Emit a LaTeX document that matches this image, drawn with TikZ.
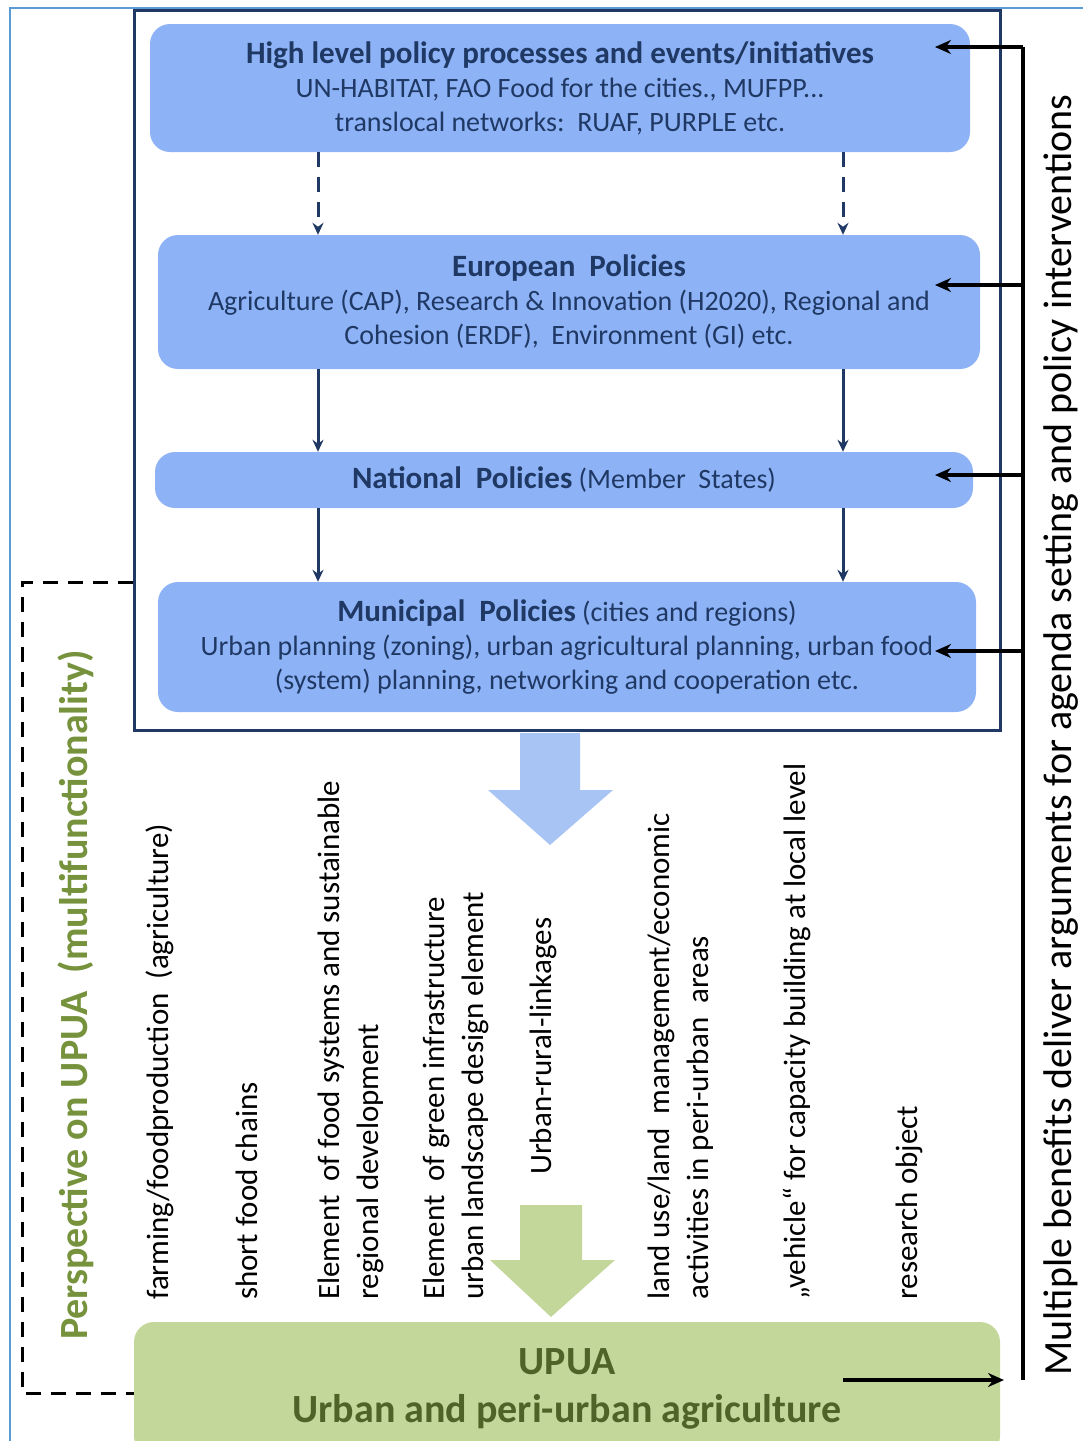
\documentclass[tikz,border=0pt]{standalone}
\usepackage{fontspec}
\setmainfont{Carlito}
\usetikzlibrary{arrows.meta}
\definecolor{navy}{HTML}{1F3864}
\definecolor{boxblue}{RGB}{141,179,246}
\definecolor{arrowblue}{RGB}{168,196,245}
\definecolor{upuagreen}{RGB}{196,215,155}
\definecolor{darkolive}{HTML}{4F6228}
\definecolor{persgreen}{HTML}{76923C}
\definecolor{pageframe}{HTML}{5B9BD5}
\newcommand{\boxhead}[1]{{\fontsize{31}{33}\selectfont\bfseries #1}}
\begin{document}
\begin{tikzpicture}[x=1pt,y=-1pt,
  policy/.style={fill=boxblue, rounded corners=20pt, align=center, text=navy, inner sep=0pt, font=\fontsize{28}{34}\selectfont},
  flow/.style={navy, line width=3pt, -{Stealth[length=12pt,width=11pt]}},
  feedback/.style={line width=3.5pt, -{Stealth[length=16pt,width=14pt]}},
  benefit/.style={rotate=90, anchor=north west, align=left, inner sep=0pt, font=\fontsize{31}{39}\selectfont}]
\useasboundingbox (0,0) rectangle (1083,1441);
\draw[pageframe, line width=1.2pt] (10,1441) -- (10,8) -- (1083,8);
\node[draw=navy, line width=3pt, minimum width=866pt, minimum height=720pt] (frame) at (567,370) {};

\node[policy, minimum width=820pt, minimum height=128pt] (high) at (560,88) {\boxhead{High level policy processes and events/initiatives}\\UN-HABITAT, FAO Food for the cities., MUFPP...\\translocal networks:\ \ RUAF, PURPLE etc.};
\node[policy, minimum width=822pt, minimum height=134pt] (euro) at (569,302) {\boxhead{European\ \ Policies}\\Agriculture (CAP), Research \& Innovation (H2020), Regional and\\Cohesion (ERDF),\ \ Environment (GI) etc.};
\node[policy, minimum width=818pt, minimum height=56pt] (nat) at (564,480) {\boxhead{National\ \ Policies} (Member\ \ States)};
\node[policy, minimum width=818pt, minimum height=130pt] (muni) at (567,647) {\boxhead{Municipal\ \ Policies} (cities and regions)\\Urban planning (zoning), urban agricultural planning, urban food\\(system) planning, networking and cooperation etc.};

\coordinate (lx) at (318,0);
\coordinate (rx) at (843,0);
\draw[flow, dash pattern=on 15pt off 10pt] (high.south -| lx) -- (euro.north -| lx);
\draw[flow, dash pattern=on 15pt off 10pt] (high.south -| rx) -- (euro.north -| rx);
\draw[flow] (euro.south -| lx) -- (nat.north -| lx);
\draw[flow] (euro.south -| rx) -- (nat.north -| rx);
\draw[flow] (nat.south -| lx) -- (muni.north -| lx);
\draw[flow] (nat.south -| rx) -- (muni.north -| rx);

\fill[arrowblue] (520,733) -- (580,733) -- (580,790) -- (613,790) -- (550,845) -- (488,790) -- (520,790) -- cycle;
\fill[upuagreen] (520,1205) -- (582,1205) -- (582,1260) -- (615,1260) -- (551,1317) -- (490,1260) -- (520,1260) -- cycle;

\node[fill=upuagreen, rounded corners=20pt, minimum width=866pt, minimum height=134pt, align=center, text=darkolive, inner sep=0pt, font=\bfseries\fontsize{40}{48}\selectfont] (upua) at (567,1389) {UPUA\\Urban and peri-urban agriculture};

\node[benefit] (ben1) at (146,1300) {farming/foodproduction\ \ (agriculture)};
\node[benefit] (ben2) at (236,1300) {short food chains};
\node[benefit] (ben3) at (318,1300) {Element\ \ of food systems and sustainable\\regional development};
\node[benefit] (ben4) at (423,1300) {Element\ \ of green infrastructure\\urban landscape design element};
\node[benefit] (ben5) at (530,1175) {Urban-rural-linkages};
\node[benefit] (ben6) at (648,1300) {land use/land\ \ management/economic\\activities in peri-urban\ \ areas};
\node[benefit] (ben7) at (783,1300) {„vehicle“ for capacity building at local level};
\node[benefit] (ben8) at (896,1300) {research object};

\node[rotate=90, text=persgreen, font=\bfseries\fontsize{40}{44}\selectfont] (persp) at (76,995) {Perspective on UPUA\ \ (multifunctionality)};
\coordinate (bendtop) at (22,582);
\coordinate (bendbot) at (22,1393);
\draw[line width=3pt, dash pattern=on 15pt off 10pt] (bendtop -| frame.west) -- (bendtop) -- (bendbot) -- (bendbot -| upua.west);

\node[rotate=90, font=\fontsize{40}{44}\selectfont] (benefits) at (1061,735) {Multiple benefits deliver arguments for agenda setting and policy interventions};
\coordinate (bustop) at (1023,47);
\coordinate (busbot) at (1023,1380);
\coordinate (tipx) at (935,0);
\draw[line width=3.5pt] (bustop) -- (busbot);
\draw[feedback] (bustop) -- (tipx |- bustop);
\draw[feedback] ([yshift=17pt]euro.east -| bustop) -- ([yshift=17pt]euro.east -| tipx);
\draw[feedback] ([yshift=5pt]nat.east -| bustop) -- ([yshift=5pt]nat.east -| tipx);
\draw[feedback] ([yshift=-4pt]muni.east -| bustop) -- ([yshift=-4pt]muni.east -| tipx);
\draw[feedback] (rx |- busbot) -- ([xshift=-19pt]busbot);
\end{tikzpicture}
\end{document}
